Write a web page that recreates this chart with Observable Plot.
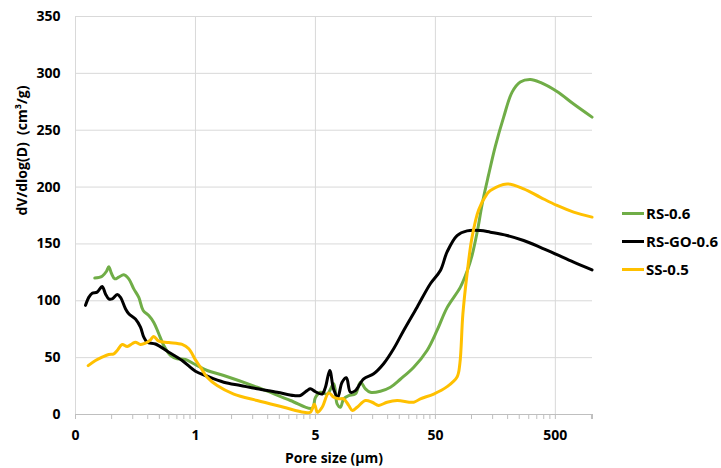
<!DOCTYPE html>
<html><head><meta charset="utf-8">
<script src="https://cdn.jsdelivr.net/npm/d3@7"></script>
<script src="https://cdn.jsdelivr.net/npm/@observablehq/plot@0.6"></script>
<style>
body{margin:0;background:#fff;font-family:"Open Sans",sans-serif;}
#wrap{position:relative;width:721px;height:468px;}
#legend{position:absolute;left:622px;top:199px;font-weight:700;font-size:15px;color:#000;}
.item{display:flex;align-items:center;height:28px;}
.sw{width:22px;height:3px;margin-right:2px;}
</style></head><body><div id="wrap"><div id="legend"></div></div>
<script>
// Series names and colours
const seriesNames = ["RS-0.6", "RS-GO-0.6", "SS-0.5"];
const seriesColors = ["#70AD47", "#000000", "#FFC000"];

// RS-0.6 (pore size µm, dV/dlog(D))
const poreRS06 = [0.0724,0.0834,0.0907,0.0947,0.0998,0.1063,0.1148,0.1263,0.139,0.153,0.1685,0.1833,0.204,0.2247,0.2472,0.272,0.3095,0.352,0.4127,0.484,0.626,0.86,1.634,3.095,4.69,5.0,5.5,6.26,7.1,7.58,8.08,8.6,9.47,10.77,11.86,13.05,14.36,17.4,21.1,25.5,33,42.6,51.6,62.6,80.8,91.9,101.1,111.3,123.2,138.3,158.1,185.4,218,255,309.5,375,516,710,1011];
const valRS06  = [120,121.6,126,130,124,119.3,120.8,122.9,119.3,110.5,103,91.5,87,81,71,60.7,52,49,48.4,44.6,38.7,34.3,24,12.3,5.5,15,19.6,18,27,9.4,6.4,13.8,16.7,18.1,28.4,22.6,19.6,20.5,24,31,41.6,56.3,73.9,94,112,126,140,160,186,210,236,261.5,283.5,292.4,294.6,292,284,273,261.5];

// RS-GO-0.6
const poreRSGO = [0.0606,0.0645,0.0689,0.0758,0.0834,0.0889,0.0947,0.1011,0.1113,0.1186,0.1305,0.139,0.158,0.174,0.1855,0.198,0.232,0.2996,0.387,0.5,0.606,0.86,1.186,1.634,2.4,3.3,3.75,4.26,4.54,5.0,5.69,6.06,6.58,7.1,7.67,8.34,9.06,9.79,10.77,12.63,15.3,18.5,22.5,27.2,35.2,45.4,55,62.6,75.8,91.9,118.6,143.6,198,272,375,516,710,1011];
const valRSGO  = [96,103,106.7,107.6,112.6,106,101.7,101.7,105.5,103,93,88.6,84,76.8,68,63.6,62,54.8,47.5,38,34.3,28.4,25.5,22.6,19.6,16.7,16.7,21,22.6,20,18,24,38.7,22,15.2,28.4,32.3,19.6,21,31.4,35.8,44.6,58,73.9,94.4,115,126.6,143,157.4,161.5,161.8,160.3,157.4,153,147,140.5,134,127.2];

// SS-0.5
const poreSS05 = [0.0638,0.0734,0.0834,0.0947,0.1043,0.1113,0.1225,0.1349,0.1484,0.158,0.174,0.1915,0.211,0.2247,0.2472,0.2996,0.387,0.44,0.5,0.55,0.626,0.758,1.043,1.634,2.72,4.0,4.54,4.9,5.2,5.69,6.46,7.1,7.82,8.6,9.47,10.17,11.13,13.05,14.85,16.85,19.8,24,33,37.5,48.4,62.6,75.8,80,84.7,91.9,101.1,114.8,134.8,143.6,198,272,375,516,710,1011];
const valSS05  = [43,47.5,50.4,52.8,53.4,56.3,61.6,59.8,62.2,63.6,61.6,62.7,65.7,68.6,64.5,63.3,61.6,57.8,48,41.6,32.8,25.5,18,12.3,6.4,2,2,9,2,6.4,19,15.2,13.8,13.8,8,3.5,6.4,12.3,10.8,8,10.8,12.3,10.8,13.8,18,24.5,33,45,88,124,156,180,194,197,202.8,198.5,191,183.8,178,173.6];

// Axis ticks
const xMajor = [0.05, 0.5, 5, 50, 500];
const xMajorLabels = ["0", "1", "5", "50", "500"];
const yTicks = [0, 50, 100, 150, 200, 250, 300, 350];
const xTitle = "Pore size (µm)";
const yTitle = "dV/dlog(D)\u00a0 (cm³/g)";

const xs = [poreRS06, poreRSGO, poreSS05];
const ys = [valRS06, valRSGO, valSS05];
const data = seriesNames.flatMap((name, s) => xs[s].map((x, i) => ({series: name, x, y: ys[s][i]})));

const minor = [];
for (const b of xMajor) for (let k = 1; k <= 9; k++) { const v = +(b * k).toPrecision(6); if (v <= 1020) minor.push(v); }
minor.push(1020);

const chart = Plot.plot({
  width: 721, height: 468,
  marginLeft: 75, marginRight: 129, marginTop: 16, marginBottom: 54,
  x: {type: "log", domain: [0.05, 1020]},
  y: {domain: [0, 350]},
  color: {domain: seriesNames, range: seriesColors},
  style: {fontFamily: "Open Sans", fontSize: "14px", background: "#fff"},
  marks: [
    Plot.gridY(yTicks, {stroke: "#d9d9d9", strokeOpacity: 1}),
    Plot.gridX(xMajor, {stroke: "#d9d9d9", strokeOpacity: 1}),
    Plot.ruleY([0], {stroke: "#bfbfbf"}),
    Plot.axisX(minor, {tickSize: 5, stroke: "#bfbfbf", tickFormat: () => "", label: null}),
    Plot.text(xMajor, {x: d => d, text: (d, i) => xMajorLabels[i], frameAnchor: "bottom", lineAnchor: "middle", dy: 21, fontSize: 14, fontWeight: "bold"}),
    Plot.axisY(yTicks, {tickSize: 0, tickPadding: 15, fontSize: 14, fontWeight: "bold", label: null}),
    Plot.line(data, {x: "x", y: "y", z: "series", stroke: "series", strokeWidth: 3, curve: "catmull-rom"}),
    Plot.text([yTitle], {frameAnchor: "left", dx: -53, rotate: -90, fontSize: 14, fontWeight: "bold"}),
    Plot.text([xTitle], {frameAnchor: "bottom", lineAnchor: "middle", dy: 44, fontSize: 14, fontWeight: "bold"})
  ]
});
const wrap = document.getElementById("wrap");
wrap.insertBefore(chart, wrap.firstChild);

const legend = document.getElementById("legend");
seriesNames.forEach((n, i) => {
  const it = document.createElement("div"); it.className = "item";
  const sw = document.createElement("span"); sw.className = "sw"; sw.style.background = seriesColors[i];
  const tx = document.createElement("span"); tx.textContent = n;
  it.appendChild(sw); it.appendChild(tx); legend.appendChild(it);
});
</script></body></html>
